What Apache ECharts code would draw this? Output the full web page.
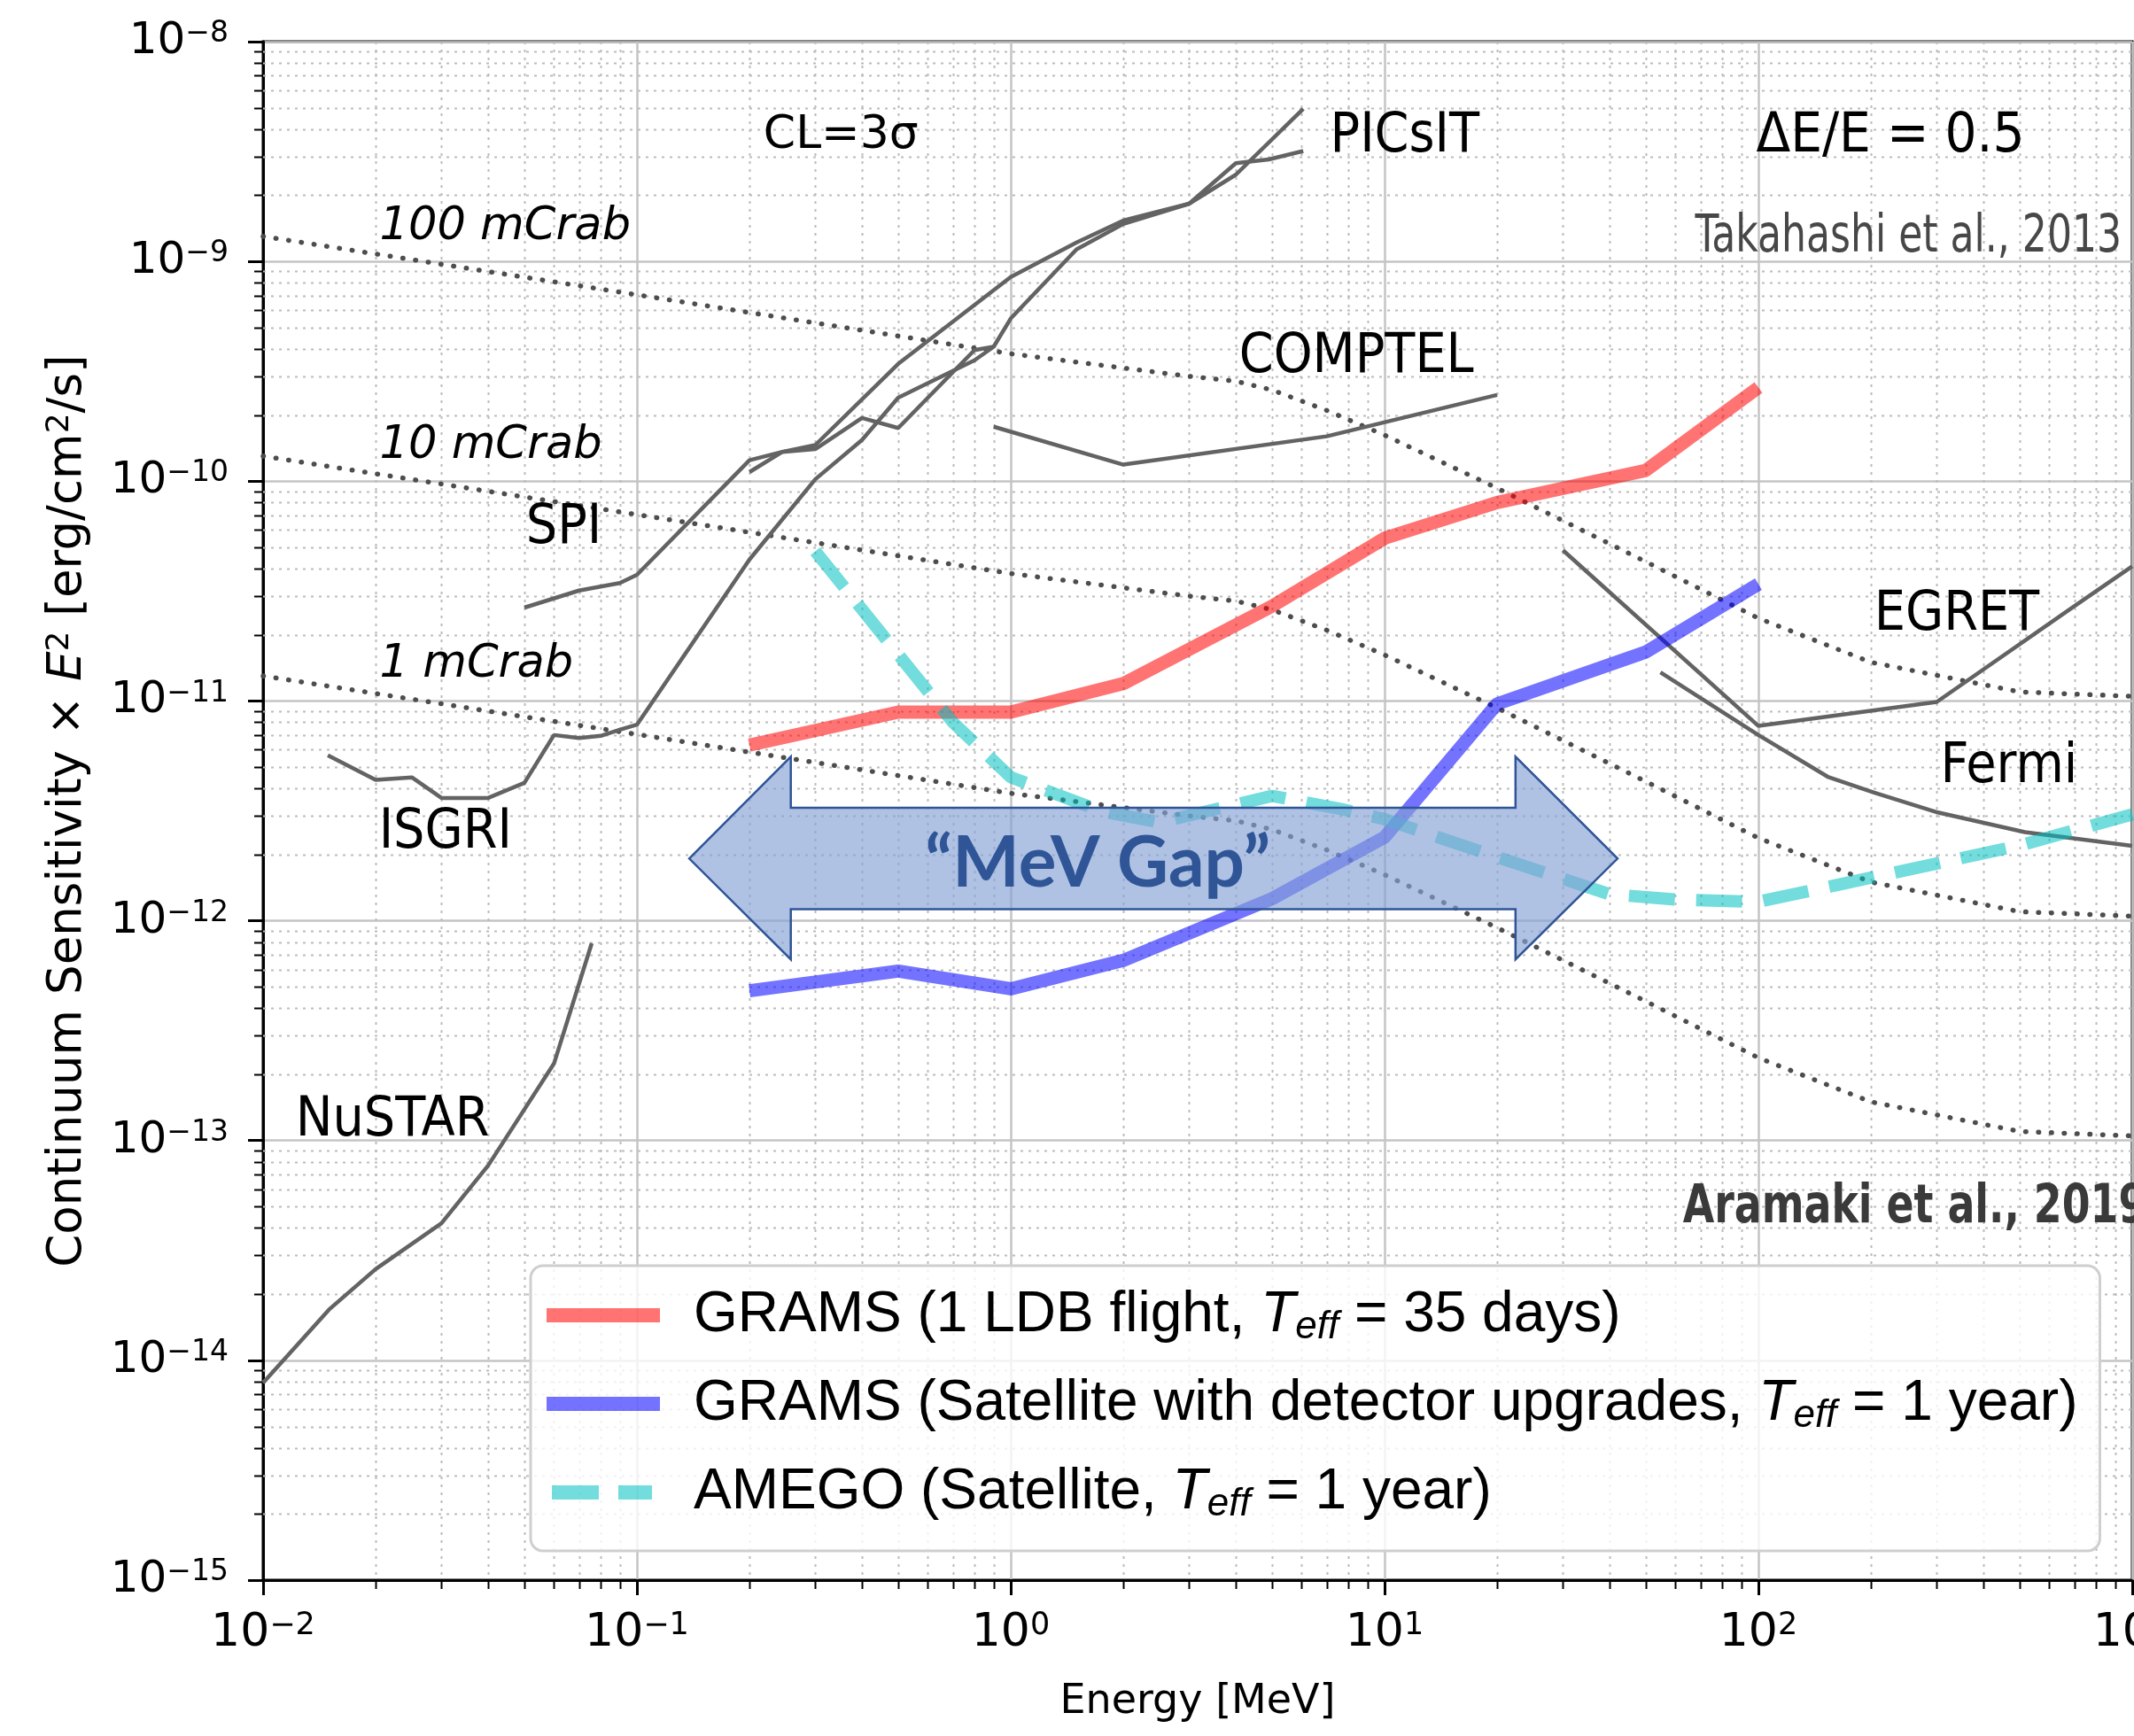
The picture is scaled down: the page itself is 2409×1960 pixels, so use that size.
<!DOCTYPE html>
<html>
<head>
<meta charset="utf-8">
<script src="https://cdn.jsdelivr.net/npm/echarts/dist/echarts.min.js"></script>
<style>
html,body{margin:0;padding:0;background:#ffffff;}
#chart{width:2409px;height:1960px;}
</style>
</head>
<body>
<div id="chart"></div>
<script>
// ---------------- data ----------------
// Crab reference lines (E^2 x flux), energies in MeV
const crabE    = [0.01, 0.1, 1, 3, 4, 5, 7, 10, 20, 50, 100, 200, 500, 1000];
const crab100  = [1.3e-9, 7.05e-10, 3.8e-10, 3.0e-10, 2.85e-10, 2.6e-10, 2.1e-10, 1.62e-10, 9.3e-11, 4.3e-11, 2.38e-11, 1.5e-11, 1.1e-11, 1.05e-11];
const crab10   = [1.3e-10, 7.05e-11, 3.8e-11, 3.0e-11, 2.85e-11, 2.6e-11, 2.1e-11, 1.62e-11, 9.3e-12, 4.3e-12, 2.38e-12, 1.5e-12, 1.1e-12, 1.05e-12];
const crab1    = [1.3e-11, 7.05e-12, 3.8e-12, 3.0e-12, 2.85e-12, 2.6e-12, 2.1e-12, 1.62e-12, 9.3e-13, 4.3e-13, 2.38e-13, 1.5e-13, 1.1e-13, 1.05e-13];

// Existing instruments
const spiE     = [0.05, 0.07, 0.09, 0.1, 0.2, 0.245, 0.3, 0.5, 1.0, 1.5, 2.0, 3.0, 4.0, 4.9, 6.06];
const spiS     = [2.66e-11, 3.18e-11, 3.44e-11, 3.75e-11, 1.245e-10, 1.36e-10, 1.46e-10, 3.42e-10, 8.5e-10, 1.22e-9, 1.535e-9, 1.83e-9, 2.8e-9, 2.91e-9, 3.18e-9];
const isgriE   = [0.0149, 0.02, 0.025, 0.03, 0.04, 0.05, 0.06, 0.07, 0.08, 0.09, 0.1, 0.2, 0.3, 0.4, 0.5, 0.8, 0.9, 1.0, 1.5, 2.0, 3.0, 4.0, 6.06];
const isgriS   = [5.66e-12, 4.38e-12, 4.49e-12, 3.62e-12, 3.62e-12, 4.24e-12, 7.0e-12, 6.79e-12, 6.94e-12, 7.4e-12, 7.8e-12, 4.4e-11, 1.02e-10, 1.54e-10, 2.4e-10, 3.55e-10, 4.09e-10, 5.5e-10, 1.135e-9, 1.48e-9, 1.83e-9, 2.48e-9, 4.95e-9];
const picsitE  = [0.2, 0.245, 0.3, 0.4, 0.5, 0.8, 0.9];
const picsitS  = [1.1e-10, 1.36e-10, 1.4e-10, 1.94e-10, 1.745e-10, 3.95e-10, 4.09e-10];
const comptelE = [0.9, 2, 7, 20];
const comptelS = [1.77e-10, 1.19e-10, 1.6e-10, 2.47e-10];
const nustarE  = [0.01, 0.015, 0.02, 0.03, 0.04, 0.06, 0.0757];
const nustarS  = [7.9e-15, 1.7e-14, 2.6e-14, 4.2e-14, 7.7e-14, 2.24e-13, 7.9e-13];
const egretE   = [30, 100, 300, 700, 1000];
const egretS   = [4.85e-11, 7.7e-12, 9.9e-12, 2.7e-11, 4.1e-11];
const fermiE   = [54.7, 100, 154, 204, 302, 516, 1000];
const fermiS   = [1.35e-11, 7.0e-12, 4.5e-12, 3.83e-12, 3.11e-12, 2.53e-12, 2.19e-12];

// GRAMS / AMEGO projections
const gramsE   = [0.2, 0.5, 1, 2, 5, 10, 20, 50, 100];
const ldbS     = [6.3e-12, 8.9e-12, 8.9e-12, 1.2e-11, 2.7e-11, 5.5e-11, 8.0e-11, 1.12e-10, 2.67e-10];
const satS     = [4.8e-13, 5.9e-13, 4.9e-13, 6.6e-13, 1.26e-12, 2.4e-12, 9.7e-12, 1.67e-11, 3.4e-11];
const amegoE   = [0.3, 0.7, 1, 1.75, 2.5, 5, 7.8, 10, 20, 40, 60, 100, 200, 500, 1000];
const amegoS   = [4.8e-11, 8.0e-12, 4.5e-12, 3.15e-12, 2.8e-12, 3.7e-12, 3.2e-12, 2.9e-12, 1.95e-12, 1.32e-12, 1.25e-12, 1.22e-12, 1.57e-12, 2.2e-12, 3.05e-12];

// Axis ticks (decades)
const xTickExps = [-2, -1, 0, 1, 2, 3];
const yTickExps = [-15, -14, -13, -12, -11, -10, -9, -8];

// Legend labels
const legendNames = ['GRAMS LDB', 'GRAMS Satellite', 'AMEGO'];
const legendLabels = {
  'GRAMS LDB': 'GRAMS (1 LDB flight, {t|T}{e|eff} = 35 days)',
  'GRAMS Satellite': 'GRAMS (Satellite with detector upgrades, {t|T}{e|eff} = 1 year)',
  'AMEGO': 'AMEGO (Satellite, {t|T}{e|eff} = 1 year)'
};

// ---------------- chart ----------------
const chart = echarts.init(document.getElementById('chart'), null, {renderer: 'canvas'});

function pairs(xs, ys) { return xs.map((x, i) => [x, ys[i]]); }

// minor tick positions (2..9 x 10^n) for the log axes
const minorX = [];
for (let d = xTickExps[0]; d < xTickExps[xTickExps.length - 1]; d++)
  for (let k = 2; k <= 9; k++) minorX.push(+(k * Math.pow(10, d)).toPrecision(3));
const minorY = [];
for (let d = yTickExps[0]; d < yTickExps[yTickExps.length - 1]; d++)
  for (let k = 2; k <= 9; k++) minorY.push(+(k * Math.pow(10, d)).toPrecision(3));

const FONT = 'DejaVu Sans';
function powLabel(v) {
  const e = Math.round(Math.log10(v));
  return '{b|10}{s|' + (e < 0 ? '\u2212' + (-e) : String(e)) + '}';
}

const grayStyle = {color: '#636363', width: 4.5};
const crabStyle = {color: '#4d4d4d', width: 5.5, type: [0.5, 14], cap: 'round'};

function lineSeries(name, xs, ys, style, z) {
  return {name: name, type: 'line', data: pairs(xs, ys), symbol: 'none', showSymbol: false,
          lineStyle: style, itemStyle: {color: style.color}, z: z, silent: true, clip: true};
}

const arrowPts = [
  [0.138, 1.92e-12], [0.258, 5.58e-12], [0.258, 3.27e-12], [22.4, 3.27e-12], [22.4, 5.58e-12],
  [42, 1.92e-12], [22.4, 6.67e-13], [22.4, 1.13e-12], [0.258, 1.13e-12], [0.258, 6.67e-13]
];

const option = {
  animation: false,
  backgroundColor: '#ffffff',
  grid: {left: 297, top: 47, right: 2, bottom: 176, show: true, borderColor: '#000', borderWidth: 3,
         backgroundColor: 'transparent', containLabel: false, outerBoundsMode: 'none'},
  xAxis: {
    type: 'log', logBase: 10, min: 0.01, max: 1000,
    name: 'Energy [MeV]', nameLocation: 'middle', nameGap: 115,
    nameTextStyle: {fontFamily: FONT, fontSize: 46, color: '#000', lineHeight: 46},
    axisLine: {show: true, lineStyle: {color: '#000', width: 3}},
    axisTick: {show: true, inside: false, length: 17, lineStyle: {color: '#000', width: 3}},
    axisLabel: {show: true, margin: 34, formatter: powLabel, hideOverlap: false,
      rich: {b: {fontFamily: FONT, fontSize: 52, lineHeight: 52, color: '#000'},
             s: {fontFamily: FONT, fontSize: 35, lineHeight: 35, color: '#000', verticalAlign: 'top'}}},
    splitLine: {show: true, lineStyle: {color: '#c4c4c4', width: 2.5}},
    minorTick: {show: false}, minorSplitLine: {show: false}
  },
  yAxis: {
    type: 'log', logBase: 10, min: 1e-15, max: 1e-8,
    name: 'Continuum Sensitivity \u00d7 {it|E}{sp|2} [erg/cm{sp|2}/s]',
    nameLocation: 'middle', nameGap: 192, nameRotate: 90,
    nameTextStyle: {fontFamily: FONT, fontSize: 53, color: '#000', lineHeight: 55,
      rich: {it: {fontFamily: FONT, fontSize: 53, fontStyle: 'italic', lineHeight: 55, color: '#000'},
             sp: {fontFamily: FONT, fontSize: 36, lineHeight: 36, verticalAlign: 'top', color: '#000'}}},
    axisLine: {show: true, lineStyle: {color: '#000', width: 3}},
    axisTick: {show: true, inside: false, length: 17, lineStyle: {color: '#000', width: 3}},
    axisLabel: {show: true, margin: 39, formatter: powLabel, hideOverlap: false,
      rich: {b: {fontFamily: FONT, fontSize: 50, lineHeight: 50, color: '#000'},
             s: {fontFamily: FONT, fontSize: 33, lineHeight: 33, color: '#000', verticalAlign: 'top'}}},
    splitLine: {show: true, lineStyle: {color: '#c4c4c4', width: 2.5}},
    minorTick: {show: false}, minorSplitLine: {show: false}
  },
  legend: {
    show: true, orient: 'vertical', left: 599, top: 1429,
    data: [
      {name: 'GRAMS LDB', icon: 'path://M0,0H128V16H0Z'},
      {name: 'GRAMS Satellite', icon: 'path://M0,0H128V16H0Z'},
      {name: 'AMEGO', icon: 'path://M0,0L0,0M128,16L128,16M6,0H59V16H6ZM81,0H119V16H81Z'}
    ],
    itemWidth: 128, itemHeight: 16, itemGap: 28, selectedMode: false,
    padding: [20, 25, 30, 18],
    backgroundColor: 'rgba(255,255,255,0.8)', borderColor: '#cfcfcf', borderWidth: 3, borderRadius: 14,
    itemStyle: {borderWidth: 0},
    formatter: function (n) { return legendLabels[n]; },
    textStyle: {fontFamily: 'Liberation Sans', fontSize: 64, color: '#000', lineHeight: 72, padding: [0, 0, 0, 33],
      rich: {t: {fontFamily: 'Liberation Sans', fontSize: 64, fontStyle: 'italic', lineHeight: 72, color: '#000'},
             e: {fontFamily: 'Liberation Sans', fontSize: 44, fontStyle: 'italic', lineHeight: 44, verticalAlign: 'bottom', color: '#000'}}}
  },
  tooltip: {show: false},
  series: [
    // minor grid + minor ticks (x)
    {type: 'custom', name: 'minorX', silent: true, z: 1, clip: false,
     data: minorX.map(v => [v, 1e-15]),
     renderItem: function (params, api) {
       const cs = params.coordSys;
       const p = api.coord([api.value(0), api.value(1)]);
       const x = Math.round(p[0]) + 0.5;
       return {type: 'group', children: [
         {type: 'line', shape: {x1: x, y1: cs.y, x2: x, y2: cs.y + cs.height}, style: {stroke: '#bcbcbc', lineWidth: 2, lineDash: [3, 6]}},
         {type: 'line', shape: {x1: x, y1: cs.y + cs.height, x2: x, y2: cs.y + cs.height + 10}, style: {stroke: '#000', lineWidth: 2}}
       ]};
     }},
    // minor grid + minor ticks (y)
    {type: 'custom', name: 'minorY', silent: true, z: 1, clip: false,
     data: minorY.map(v => [0.01, v]),
     renderItem: function (params, api) {
       const cs = params.coordSys;
       const p = api.coord([api.value(0), api.value(1)]);
       const y = Math.round(p[1]) + 0.5;
       return {type: 'group', children: [
         {type: 'line', shape: {x1: cs.x, y1: y, x2: cs.x + cs.width, y2: y}, style: {stroke: '#bcbcbc', lineWidth: 2, lineDash: [3, 6]}},
         {type: 'line', shape: {x1: cs.x - 10, y1: y, x2: cs.x, y2: y}, style: {stroke: '#000', lineWidth: 2}}
       ]};
     }},
    lineSeries('100 mCrab', crabE, crab100, crabStyle, 2),
    lineSeries('10 mCrab', crabE, crab10, crabStyle, 2),
    lineSeries('1 mCrab', crabE, crab1, crabStyle, 2),
    lineSeries('SPI', spiE, spiS, grayStyle, 3),
    lineSeries('ISGRI', isgriE, isgriS, grayStyle, 3),
    lineSeries('PICsIT', picsitE, picsitS, grayStyle, 3),
    lineSeries('COMPTEL', comptelE, comptelS, grayStyle, 3),
    lineSeries('NuSTAR', nustarE, nustarS, grayStyle, 3),
    lineSeries('EGRET', egretE, egretS, grayStyle, 3),
    lineSeries('Fermi', fermiE, fermiS, grayStyle, 3),
    lineSeries('GRAMS LDB', gramsE, ldbS, {color: 'rgba(255,0,0,0.55)', width: 15, join: 'round'}, 4),
    lineSeries('GRAMS Satellite', gramsE, satS, {color: 'rgba(0,0,255,0.55)', width: 15, join: 'round'}, 4),
    lineSeries('AMEGO', amegoE, amegoS, {color: 'rgba(0,191,191,0.55)', width: 14, type: [52, 24]}, 4),
    // "MeV Gap" double arrow annotation
    {type: 'custom', name: 'MeV gap', silent: true, z: 6, clip: false,
     data: [[1.71, 1.82e-12]],
     renderItem: function (params, api) {
       const pts = arrowPts.map(q => api.coord(q));
       const c = api.coord([api.value(0), api.value(1)]);
       return {type: 'group', children: [
         {type: 'polygon', shape: {points: pts}, style: {fill: 'rgba(132,161,214,0.65)', stroke: '#2f5597', lineWidth: 2.5}},
         {type: 'text', x: c[0], y: c[1], style: {text: '\u201cMeV Gap\u201d', fontFamily: 'Lato', fontWeight: 'bold', fontSize: 80,
           fill: '#2f5597', align: 'center', verticalAlign: 'middle'}}
       ]};
     }}
  ]
};

chart.setOption(option);

// text annotations anchored in data coordinates
const notes = [
  {t: 'CL=3\u03c3', at: [0.218, 3.71e-9], size: 52, family: FONT},
  {t: 'PICsIT', at: [7.15, 3.67e-9], size: 62, family: 'DejaVu Sans Condensed'},
  {t: 'COMPTEL', at: [4.08, 3.65e-10], size: 62, family: 'DejaVu Sans Condensed'},
  {t: 'SPI', at: [0.0505, 6.08e-11], size: 62, family: 'DejaVu Sans Condensed'},
  {t: 'ISGRI', at: [0.0204, 2.49e-12], size: 62, family: 'DejaVu Sans Condensed'},
  {t: 'NuSTAR', at: [0.01222, 1.23e-13], size: 62, family: 'DejaVu Sans Condensed'},
  {t: 'EGRET', at: [204, 2.45e-11], size: 62, family: 'DejaVu Sans Condensed'},
  {t: 'Fermi', at: [307, 4.97e-12], size: 62, family: 'DejaVu Sans Condensed'},
  {t: '100 mCrab', at: [0.0205, 1.43e-9], size: 51, family: FONT, style: 'italic'},
  {t: '10 mCrab', at: [0.0205, 1.44e-10], size: 51, family: FONT, style: 'italic'},
  {t: '1 mCrab', at: [0.0205, 1.46e-11], size: 51, family: FONT, style: 'italic'},
  {t: '\u0394E/E = 0.5', at: [98.6, 3.67e-9], size: 63, family: 'DejaVu Sans Condensed'},
  {t: 'Takahashi et al., 2013', at: [67.7, 1.28e-9], size: 58, family: 'DejaVu Sans Condensed', fill: '#474747', sx: 0.845},
  {t: 'Aramaki et al., 2019', at: [62.8, 4.94e-14], size: 61, family: 'DejaVu Sans Condensed', weight: 'bold', fill: '#3a3a3a', sx: 0.835}
];

function placeNotes() {
  const els = notes.map(function (n) {
    const p = chart.convertToPixel({gridIndex: 0}, n.at);
    return {type: 'text', x: p[0], y: p[1], scaleX: n.sx || 1, scaleY: 1, z: 10, silent: true,
      style: {text: n.t, fontSize: n.size, fontFamily: n.family, fontStyle: n.style || 'normal',
              fontWeight: n.weight || 'normal', fill: n.fill || '#000', align: 'left', verticalAlign: 'middle'}};
  });
  chart.setOption({graphic: els});
}
placeNotes();
</script>
</body>
</html>
